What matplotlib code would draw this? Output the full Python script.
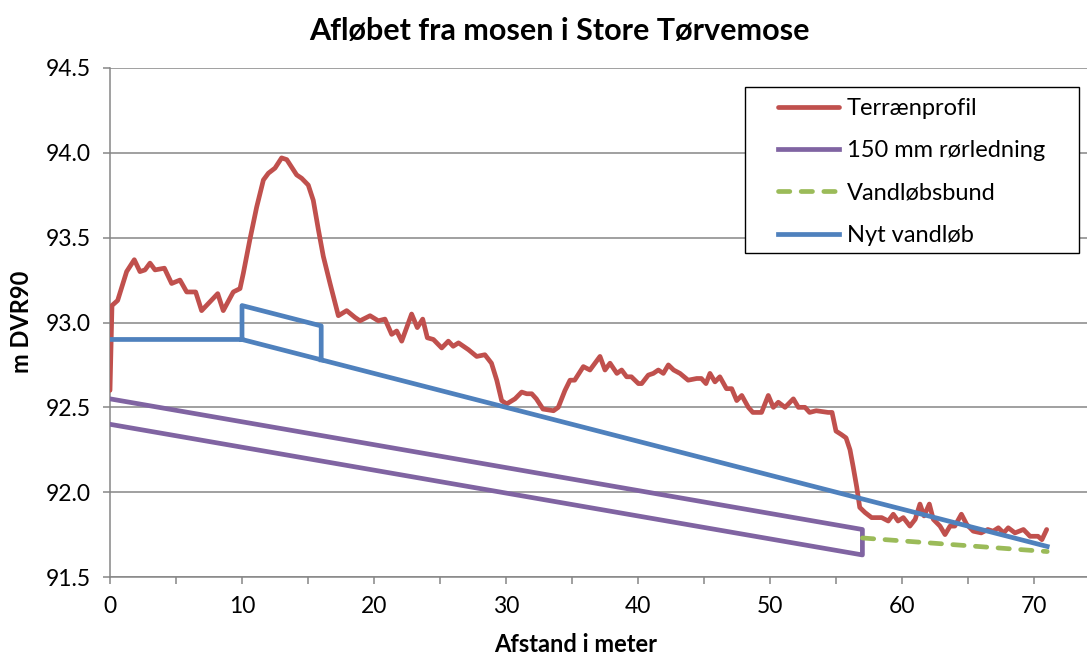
import matplotlib
matplotlib.use("Agg")
import matplotlib.pyplot as plt
from matplotlib.patches import Rectangle
from matplotlib.ticker import MultipleLocator, FormatStrFormatter
import numpy as np

# Terrænprofil (afstand i m, kote i m DVR90)
terrain_x = [
    0.0, 0.15, 0.58, 1.26, 1.84, 2.27, 2.65, 3.03, 3.41, 4.12, 4.67, 5.30,
    5.81, 6.49, 6.94, 8.16, 8.58, 9.34, 9.85, 10.1, 10.6, 11.11, 11.62, 12.0,
    12.5, 13.0, 13.39, 14.14, 14.52, 15.02, 15.4, 15.78, 16.16, 16.67, 17.3,
    17.93, 18.56, 18.94, 19.7, 20.33, 20.83, 21.34, 21.72, 22.1, 22.85, 23.28,
    23.69, 24.04, 24.5, 25.13, 25.63, 26.0, 26.4, 27.15, 27.78, 28.4, 28.9,
    29.3, 29.67, 30.05, 30.68, 31.19, 31.57, 31.95, 32.3, 32.8, 33.6, 33.96,
    34.47, 34.85, 35.2, 35.86, 36.36, 37.12, 37.5, 37.88, 38.4, 38.76, 39.14,
    39.5, 40.03, 40.28, 40.78, 41.16, 41.54, 41.92, 42.3, 42.7, 43.18, 43.8,
    44.45, 44.8, 45.15, 45.45, 45.83, 46.2, 46.7, 47.1, 47.48, 47.86, 48.36,
    48.7, 49.36, 49.87, 50.25, 50.63, 51.14, 51.77, 52.15, 52.65, 53.0, 53.5,
    54.4, 54.7, 55.0, 55.4, 55.76, 56.06, 56.3, 56.57, 56.8, 57.2, 57.7,
    58.46, 58.96, 59.34, 59.7, 60.1, 60.6, 61.0, 61.36, 61.67, 62.07, 62.37,
    62.88, 63.26, 63.64, 64.0, 64.5, 64.9, 65.4, 66.0, 66.5, 66.9, 67.3,
    67.7, 68.05, 68.56, 69.2, 69.7, 70.3, 70.6, 70.96,
]
terrain_y = [
    92.60, 93.10, 93.13, 93.30, 93.37, 93.30, 93.31, 93.35, 93.31, 93.32, 93.23, 93.25,
    93.18, 93.18, 93.07, 93.17, 93.07, 93.18, 93.20, 93.29, 93.49, 93.68, 93.84, 93.88,
    93.91, 93.97, 93.96, 93.87, 93.85, 93.81, 93.72, 93.55, 93.39, 93.23, 93.04,
    93.07, 93.03, 93.01, 93.04, 93.01, 93.02, 92.93, 92.95, 92.89, 93.05, 92.97,
    93.02, 92.91, 92.90, 92.85, 92.89, 92.86, 92.88, 92.84, 92.80, 92.81, 92.76,
    92.66, 92.54, 92.52, 92.55, 92.59, 92.58, 92.58, 92.55, 92.49, 92.48, 92.50,
    92.60, 92.66, 92.66, 92.74, 92.72, 92.80, 92.72, 92.76, 92.70, 92.72, 92.68,
    92.68, 92.64, 92.64, 92.69, 92.70, 92.72, 92.70, 92.75, 92.72, 92.70, 92.66,
    92.67, 92.67, 92.64, 92.70, 92.65, 92.68, 92.61, 92.61, 92.54, 92.57, 92.50,
    92.47, 92.47, 92.57, 92.50, 92.53, 92.50, 92.55, 92.50, 92.50, 92.47, 92.48,
    92.47, 92.47, 92.36, 92.34, 92.32, 92.25, 92.15, 92.03, 91.91, 91.88, 91.85,
    91.85, 91.83, 91.87, 91.83, 91.85, 91.80, 91.84, 91.93, 91.86, 91.93, 91.84,
    91.80, 91.75, 91.80, 91.80, 91.87, 91.81, 91.77, 91.76, 91.78, 91.77, 91.79,
    91.76, 91.79, 91.76, 91.78, 91.74, 91.74, 91.72, 91.78,
]

# 150 mm rørledning: top og bund af røret
pipe_x = [0, 57, 57, 0]
pipe_y = [92.55, 91.78, 91.63, 92.40]

# Eksisterende vandløbsbund
bed_x = [57, 71]
bed_y = [91.73, 91.65]

# Nyt vandløb (NaN bryder linjen)
new_x = [0, 10, 10, 16, 16, np.nan, 10, 71]
new_y = [92.90, 92.90, 93.10, 92.98, 92.78, np.nan, 92.90, 91.68]

RED = "#C0504D"
PURPLE = "#8064A2"
GREEN = "#9BBB59"
BLUE = "#4F81BD"
GRID = "#868686"

plt.rcParams.update({
    "font.family": ["Lato", "DejaVu Sans"],
    "font.size": 16.5,
})

W, H = 1087, 655
fig = plt.figure(figsize=(W / 100, H / 100), dpi=100)
ax = fig.add_axes([110 / W, 1 - 577 / H, 977 / W, 509 / H])

lw = 3.4
ax.plot(terrain_x, terrain_y, color=RED, lw=lw, solid_joinstyle="round",
        solid_capstyle="round", label="Terrænprofil", zorder=3)
ax.plot(pipe_x, pipe_y, color=PURPLE, lw=lw, solid_joinstyle="round",
        label="150 mm rørledning", zorder=3)
ax.plot(bed_x, bed_y, color=GREEN, lw=lw, dashes=(2.4, 2.4),
        dash_capstyle="round", label="Vandløbsbund", zorder=3)
ax.plot(new_x, new_y, color=BLUE, lw=lw, solid_joinstyle="round",
        label="Nyt vandløb", zorder=4)

ax.set_xlim(0, 977 / 13.2)
ax.set_ylim(91.5, 94.5)
ax.xaxis.set_major_locator(MultipleLocator(10))
ax.xaxis.set_minor_locator(MultipleLocator(5))
ax.yaxis.set_major_locator(MultipleLocator(0.5))
ax.yaxis.set_major_formatter(FormatStrFormatter("%.1f"))

ax.grid(axis="y", color=GRID, lw=1.1)
ax.set_axisbelow(True)
for side in ("top", "right"):
    ax.spines[side].set_visible(False)
for side in ("left", "bottom"):
    ax.spines[side].set_color(GRID)
    ax.spines[side].set_linewidth(1.1)
ax.tick_params(which="both", direction="out", length=5, width=1.1, color=GRID)
ax.tick_params(axis="both", labelsize=16.5, pad=9)

fig.text(576 / W, 1 - 644 / H, "Afstand i meter", fontsize=17,
         fontweight="bold", ha="center", va="center")
fig.text(22 / W, 1 - 322 / H, "m DVR90", rotation=90, fontsize=17,
         fontweight="bold", ha="center", va="center")
fig.text(559 / W, 1 - 31 / H, "Afløbet fra mosen i Store Tørvemose",
         fontsize=22, fontweight="bold", ha="center", va="center")

# Forklaring med hvid ramme
frame = Rectangle((745 / W, 1 - 253 / H), 334 / W, 166 / H,
                  transform=fig.transFigure, facecolor="white",
                  edgecolor="black", lw=1.0, zorder=5)
fig.patches.append(frame)
handles, labels = ax.get_legend_handles_labels()
leg = fig.legend(handles, labels, loc="upper left",
                 bbox_to_anchor=(771 / W, 1 - 91 / H), frameon=False,
                 fontsize=17, handlelength=2.6, handletextpad=0.3,
                 labelspacing=0.9, borderpad=0.3, borderaxespad=0)
leg.set_zorder(6)

fig.savefig("out.png", dpi=100)
